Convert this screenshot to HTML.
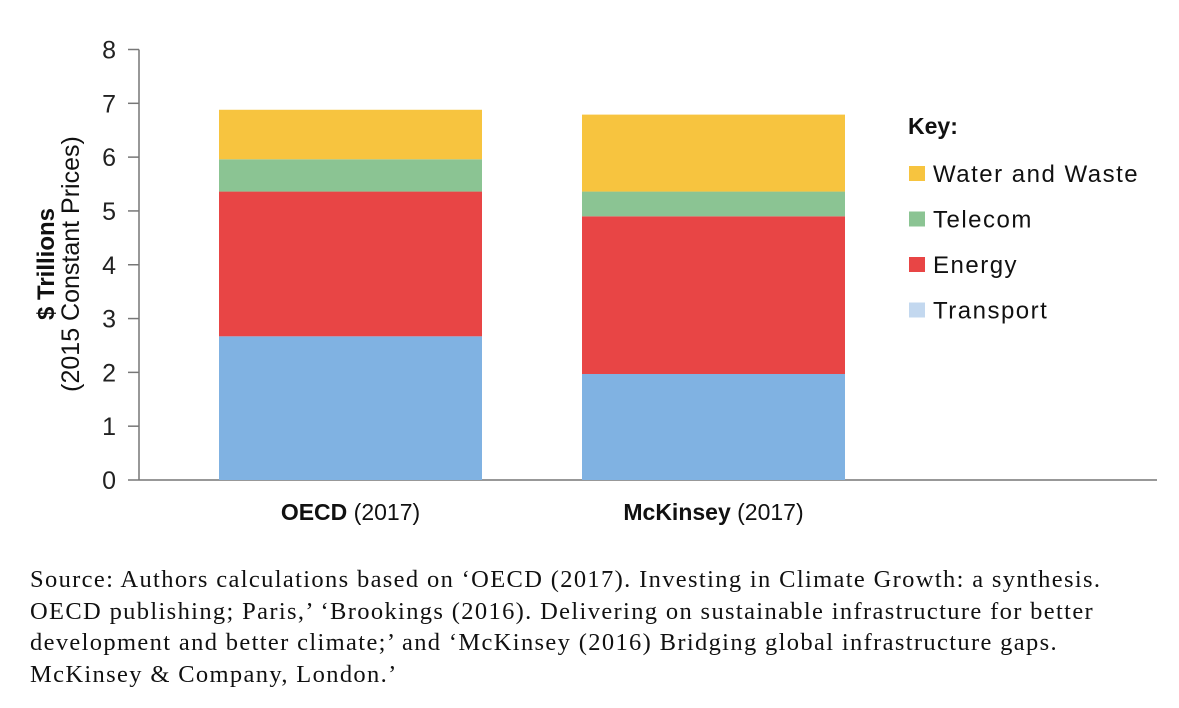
<!DOCTYPE html>
<html><head><meta charset="utf-8"><style>
body{margin:0;background:#fff;width:1179px;height:708px;overflow:hidden}
svg{display:block}
.src{position:absolute;left:30px;top:564px;font-family:"Liberation Serif",serif;font-size:24.5px;letter-spacing:1.35px;line-height:31.5px;color:#111;width:1149px;white-space:nowrap}
</style></head><body>
<svg id="chart" width="1179" height="560" font-family="Liberation Sans, sans-serif"></svg>
<div class="src">Source: Authors calculations based on ‘OECD (2017). Investing in Climate Growth: a synthesis.<br>OECD publishing; Paris,’ ‘Brookings (2016). Delivering on sustainable infrastructure for better<br>development and better climate;’ and ‘McKinsey (2016) Bridging global infrastructure gaps.<br>McKinsey &amp; Company, London.’</div>
<script>
const categories=["OECD","McKinsey"];
const catSuffix=["(2017)","(2017)"];
const seriesNames=["Transport","Energy","Telecom","Water and Waste"];
const transport=[2.67,1.97];
const energy=[2.69,2.93];
const telecom=[0.60,0.46];
const water=[0.92,1.43];
const yTicks=[0,1,2,3,4,5,6,7,8];
const colors=["#80b2e2","#e84545","#8bc493","#f7c43f"];
const legendColors=["#c3d8ef","#e84545","#8bc493","#f7c43f"];
const NS="http://www.w3.org/2000/svg";
const svg=document.getElementById('chart');
function el(t,a,p){const e=document.createElementNS(NS,t);for(const k in a)e.setAttribute(k,a[k]);(p||svg).appendChild(e);return e;}
const y0=480,y8=49.5;
const y=v=>y0-(y0-y8)*v/8;
const barX=[219,582],barW=263;
const x=i=>barX[i];
const ax=el('line',{x1:139,y1:y(8),x2:139,y2:y0,stroke:'#777','stroke-width':1.5});


const xa=el('line',{x1:139,y1:y0,x2:1157,y2:y0,stroke:'#777','stroke-width':1.5});


yTicks.forEach(t=>{
  const l=el('line',{x1:128,y1:y(t),x2:139,y2:y(t),stroke:'#777','stroke-width':1.5});
  
  
  const tx=el('text',{x:116,y:y(t)+9,'text-anchor':'end','font-size':25,fill:'#222'});
  tx.textContent=t;
  
  
});
const g=el('text',{transform:'translate(54,264) rotate(-90)','text-anchor':'middle','font-size':25,fill:'#111'});


const t1=el('tspan',{x:0,y:0,'font-weight':'bold','font-size':24},g);t1.textContent='$ Trillions';
const t2=el('tspan',{x:0,y:25},g);t2.textContent='(2015 Constant Prices)';
const series=[transport,energy,telecom,water];
categories.forEach((c,i)=>{
  let base=0;
  series.forEach((s,k)=>{
    const top=base+s[i];
    const r=el('rect',{x:x(i),y:y(top),width:barW,height:y(base)-y(top),fill:colors[k]});
    
    
    base=top;
  });
  const lt=el('text',{x:x(i)+barW/2,y:520,'text-anchor':'middle','font-size':23,fill:'#111'});
  
  
  const b=el('tspan',{'font-weight':'bold'},lt);b.textContent=c;
  const n=el('tspan',{},lt);n.textContent=' '+catSuffix[i];
});
const key=el('text',{x:908,y:134,'font-size':23,'font-weight':'bold',fill:'#111'});
key.textContent='Key:';


[3,2,1,0].forEach((k,j)=>{
  const yy=166+j*45.5;
  const sw=el('rect',{x:909,y:yy,width:16,height:15,fill:legendColors[k]});
  
  
  const lt=el('text',{x:933,y:yy+16,'font-size':24,'letter-spacing':1.5,fill:'#111'});
  lt.textContent=seriesNames[k];
  
  
});
</script>
</body></html>
